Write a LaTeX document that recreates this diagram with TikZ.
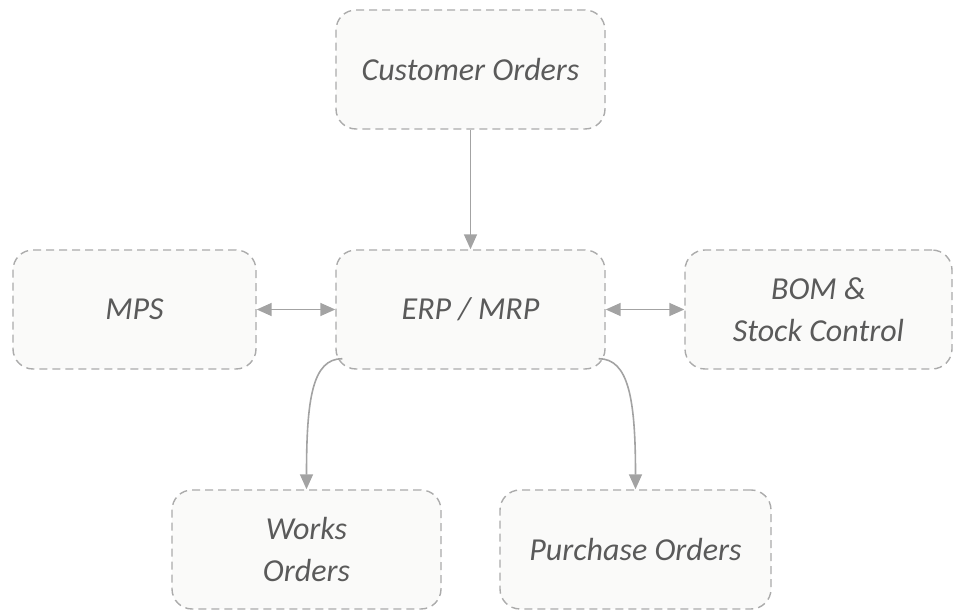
\documentclass[tikz,border=0pt]{standalone}
\usepackage{fontspec}
\setmainfont{Carlito}
\usetikzlibrary{arrows.meta}

\definecolor{boxline}{HTML}{ABABAB}
\definecolor{boxfill}{HTML}{FAFAF9}
\definecolor{linkgray}{HTML}{A3A3A3}
\definecolor{ink}{HTML}{5A5A5A}

\begin{document}
\begin{tikzpicture}[x=1pt, y=1pt,
  box/.style={draw=boxline, dash pattern=on 8pt off 5pt, line width=1.4pt,
    fill=boxfill, rounded corners=20pt, minimum width=269pt,
    minimum height=119pt, inner sep=0pt, align=center, text=ink,
    font=\itshape\fontsize{32}{42}\selectfont},
  link/.style={draw=linkgray, line width=1.6pt,
    -{Triangle[length=15pt, width=13pt]}},
  twoway/.style={link, {Triangle[length=15pt, width=13pt]}-{Triangle[length=15pt, width=13pt]}}]
  \useasboundingbox (0,0) rectangle (953,612);

  % boxes
  \node[box] (customer) at (470.5,542.5) {Customer Orders};
  \node[box, minimum width=243pt] (mps) at (134.5,302.5) {MPS};
  \node[box] (erp) at (470.5,302.5) {ERP / MRP};
  \node[box, minimum width=267pt] (bom) at (818.5,302.5) {BOM \&\\Stock Control};
  \node[box] (works) at (306.5,62.5) {Works\\Orders};
  \node[box, minimum width=271pt] (purchase) at (635.5,62.5) {Purchase Orders};

  % links
  \draw[link] (customer.south) -- (erp.north);
  \draw[twoway] (mps.east) -- (erp.west);
  \draw[twoway] (erp.east) -- (bom.west);

  % curved links down
  \draw[link] ([shift={(7pt,11pt)}]erp.south west)
    .. controls +(-30pt,0) and +(0,90pt) .. (works.north);
  \draw[link] ([shift={(-7pt,11pt)}]erp.south east)
    .. controls +(30pt,0) and +(0,90pt) .. (purchase.north);
\end{tikzpicture}
\end{document}
